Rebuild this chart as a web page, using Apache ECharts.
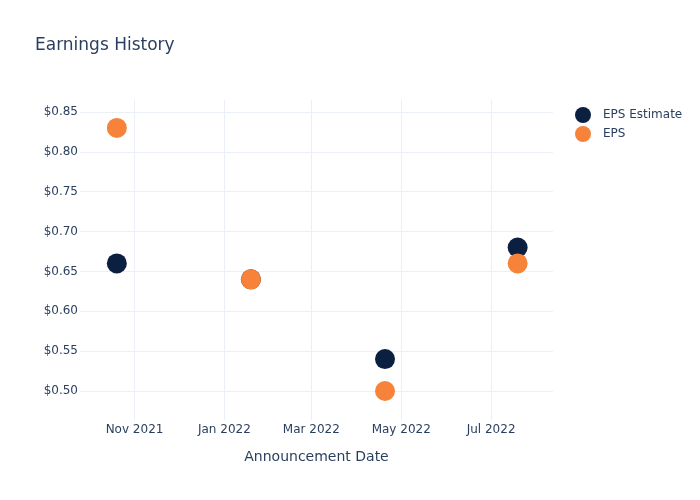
<!DOCTYPE html>
<html><head><meta charset="utf-8">
<script src="https://cdn.jsdelivr.net/npm/echarts@6/dist/echarts.min.js"></script>
<style>html,body{margin:0;padding:0;background:#fff}#c{width:700px;height:500px}</style>
</head><body><div id="c"></div>
<script>
const dates = ['2021-10-20', '2022-01-19', '2022-04-20', '2022-07-19'];
const epsEstimate = [0.66, 0.64, 0.54, 0.68];
const eps = [0.83, 0.64, 0.50, 0.66];
const xTicks = ['2021-11-01', '2022-01-01', '2022-03-01', '2022-05-01', '2022-07-01'];
const yTicks = [0.50, 0.55, 0.60, 0.65, 0.70, 0.75, 0.80, 0.85];
const xRange = ['2021-09-25', '2022-08-12'];
const yRange = [0.4636, 0.865];

const ts = d => new Date(d + 'T00:00:00Z').getTime();
const MONTHS = ['Jan','Feb','Mar','Apr','May','Jun','Jul','Aug','Sep','Oct','Nov','Dec'];
const textColor = '#2a3f5f';
const gridColor = '#ebf0f8';
const font = '"DejaVu Sans", sans-serif';

const chart = echarts.init(document.getElementById('c'), null, {renderer: 'canvas'});
chart.setOption({
  animation: false,
  backgroundColor: '#fff',
  title: {
    text: 'Earnings History', left: 30, top: 32,
    textStyle: {color: textColor, fontSize: 17, fontWeight: 'normal', fontFamily: font}
  },
  legend: {
    orient: 'vertical', left: 570, top: 102, itemWidth: 16, itemHeight: 16, itemGap: 3,
    icon: 'circle',
    textStyle: {color: textColor, fontSize: 12, fontFamily: font, padding: [0, 0, 0, 7]},
    data: ['EPS Estimate', 'EPS']
  },
  grid: {left: 80, right: 147, top: 100, bottom: 80, containLabel: false},
  xAxis: {
    type: 'value', min: ts(xRange[0]), max: ts(xRange[1]),
    name: 'Announcement Date', nameLocation: 'middle', nameGap: 30,
    nameTextStyle: {color: textColor, fontSize: 14, fontFamily: font},
    axisLine: {show: false}, axisTick: {show: false, customValues: xTicks.map(ts)},
    splitLine: {show: true, lineStyle: {color: gridColor, width: 1}, customValues: xTicks.map(ts)},
    axisLabel: {
      customValues: xTicks.map(ts), color: textColor, fontSize: 12, fontFamily: font, margin: 4,
      formatter: v => { const d = new Date(v); return MONTHS[d.getUTCMonth()] + ' ' + d.getUTCFullYear(); }
    }
  },
  yAxis: {
    type: 'value', min: yRange[0], max: yRange[1],
    axisLine: {show: false}, axisTick: {show: false, customValues: yTicks},
    splitLine: {show: true, lineStyle: {color: gridColor, width: 1}, customValues: yTicks},
    axisLabel: {
      customValues: yTicks, color: textColor, fontSize: 12, fontFamily: font, margin: 2,
      padding: [3, 0, 0, 0],
      formatter: v => '$' + v.toFixed(2)
    }
  },
  series: [
    {name: 'EPS Estimate', type: 'scatter', symbolSize: 20,
     itemStyle: {color: '#0b1f41', opacity: 1},
     data: dates.map((d, i) => [ts(d), epsEstimate[i]])},
    {name: 'EPS', type: 'scatter', symbolSize: 20,
     itemStyle: {color: '#f7823a', opacity: 1},
     data: dates.map((d, i) => [ts(d), eps[i]])}
  ]
});
</script></body></html>
